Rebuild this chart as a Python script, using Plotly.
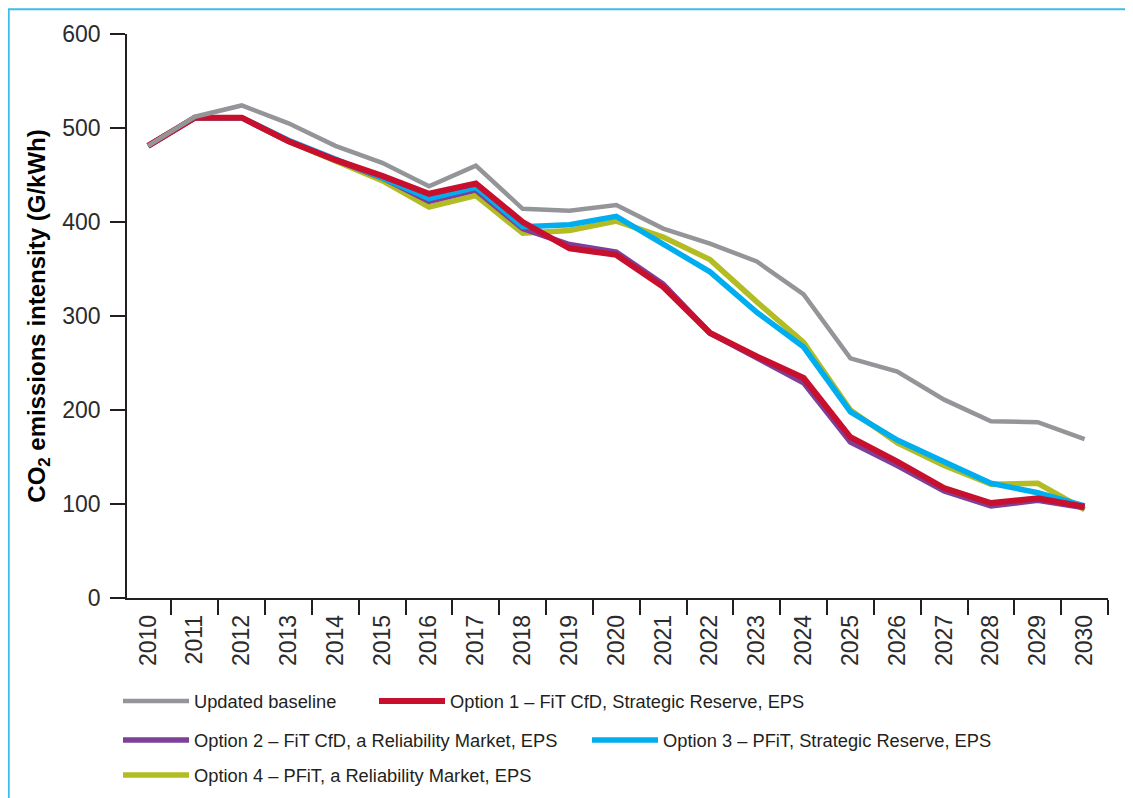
import plotly.graph_objects as go

years = [str(y) for y in range(2010, 2031)]

baseline = [481, 512, 524, 505, 481, 463, 438, 460, 414, 412, 418, 393, 377, 358, 323, 255, 241, 211, 188, 187, 169]
option1 = [481, 511, 511, 486, 466, 449, 430, 441, 400, 372, 365, 331, 282, 257, 234, 171, 145, 117, 101, 106, 97]
option2 = [481, 511, 511, 486, 466, 447, 422, 434, 393, 376, 368, 334, 282, 256, 229, 166, 141, 114, 98, 104, 96]
option3 = [481, 511, 511, 487, 467, 447, 425, 437, 395, 397, 406, 377, 347, 304, 267, 198, 168, 145, 122, 112, 98]
option4 = [481, 511, 511, 486, 465, 444, 416, 428, 388, 391, 401, 384, 360, 315, 272, 200, 165, 141, 121, 122, 94]

names = [
    "Updated baseline",
    "Option 1 – FiT CfD, Strategic Reserve, EPS",
    "Option 2 – FiT CfD, a Reliability Market, EPS",
    "Option 3 – PFiT, Strategic Reserve, EPS",
    "Option 4 – PFiT, a Reliability Market, EPS",
]
colors = ["#939598", "#c8102e", "#7d3f98", "#00aeef", "#b3bc22"]
widths = [4.5, 6, 5.5, 5.5, 5.5]
legend_ids = ["legend", "legend2", "legend3", "legend4", "legend5"]
series = [baseline, option1, option2, option3, option4]

# draw order (bottom -> top): option4, option2, option3, option1, baseline
order = [4, 2, 3, 1, 0]

fig = go.Figure()
for i in order:
    fig.add_trace(go.Scatter(
        x=years, y=series[i], mode="lines", name=names[i],
        line=dict(color=colors[i], width=widths[i]),
        legend=legend_ids[i],
    ))

font_color = "#231f20"
FONT = "Liberation Sans, Arial, sans-serif"
W, H = 1125, 790
legend_common = dict(
    orientation="h", xanchor="left", yanchor="middle",
    xref="container", yref="container",
    font=dict(family=FONT, size=18.3, color=font_color),
    bgcolor="rgba(0,0,0,0)", itemwidth=66,
)
# legend anchor positions in figure pixels (left of entry, centre y)
leg_px = [(110, 693), (366, 693), (110, 732), (579, 732), (110, 767)]
legend_layout = {}
for lid, (px, py) in zip(legend_ids, leg_px):
    legend_layout[lid] = dict(x=px / W, y=(H - py) / H, **legend_common)

fig.update_layout(
    width=W, height=H,
    margin=dict(l=119, r=25, t=26, b=200, autoexpand=False),
    paper_bgcolor="white", plot_bgcolor="white",
    font=dict(family=FONT, color=font_color),
    showlegend=True,
    xaxis=dict(
        type="category", categoryorder="array", categoryarray=years,
        range=[-0.45, 20.5], automargin=False,
        showline=True, linecolor=font_color, linewidth=1.5,
        ticks="outside", ticklen=15, tickwidth=1.5, tickcolor=font_color,
        tickson="boundaries", tickangle=-90, ticklabelstandoff=6,
        tickfont=dict(size=23, color="#2b2b2b"),
        showgrid=False, zeroline=False,
    ),
    yaxis=dict(
        range=[0, 600], dtick=100, automargin=False,
        showline=True, linecolor=font_color, linewidth=1.5,
        ticks="outside", ticklen=15, tickwidth=1.5, tickcolor=font_color,
        ticklabelstandoff=5,
        tickfont=dict(size=23, color="#2b2b2b"),
        showgrid=False, zeroline=False,
        title=dict(text="<b>CO<sub>2</sub> emissions intensity (G/kWh)</b>",
                   font=dict(size=24, color="#000000", family=FONT),
                   standoff=10),
    ),
    shapes=[
        dict(type="line", xref="paper", yref="paper", x0=-0.1215, x1=1.03, y0=1.044, y1=1.044,
             line=dict(color="#3dbbea", width=2)),
        dict(type="line", xref="paper", yref="paper", x0=-0.1206, x1=-0.1206, y0=1.044, y1=-0.36,
             line=dict(color="#3dbbea", width=2)),
    ],
    **legend_layout,
)

fig.write_html("out.html")
